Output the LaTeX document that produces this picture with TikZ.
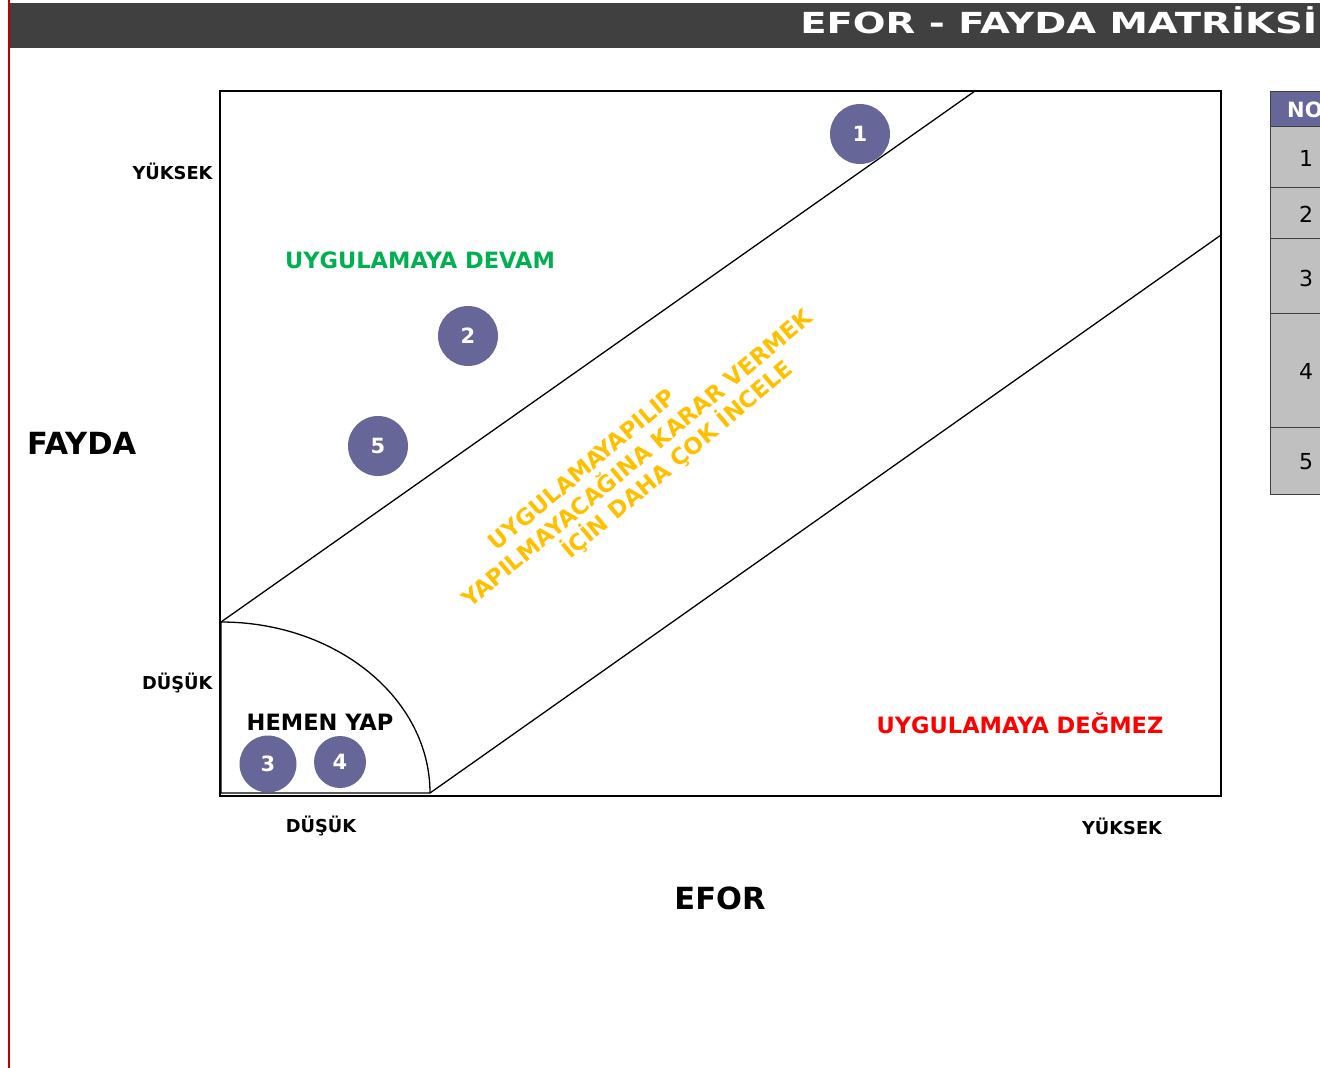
\documentclass[tikz,border=0pt]{standalone}
\usepackage{fontspec}
\setmainfont{DejaVu Sans}
\definecolor{titlegray}{HTML}{404040}
\definecolor{redline}{HTML}{C00000}
\definecolor{bubble}{HTML}{666699}
\definecolor{devam}{HTML}{00B050}
\definecolor{degmez}{HTML}{FF0000}
\definecolor{incele}{HTML}{FFC000}
\definecolor{cellgray}{HTML}{C0C0C0}
\newcommand{\fsz}[1]{\fontsize{#1}{#1}\selectfont}
\begin{document}
\begin{tikzpicture}[x=1pt,y=-1pt,
  bub/.style={circle,fill=bubble,minimum size=#1,inner sep=0pt,text=white,font=\bfseries\fsz{21}},
  axlbl/.style={font=\bfseries\fsz{17.8}},
  zone/.style={font=\bfseries\fsz{22.5}},
  big/.style={font=\bfseries\fsz{30.5}},
  diag/.style={text=incele,rotate=40,inner sep=0pt,text height=0.95em,text depth=0.25em,font=\bfseries\fsz{22.7}},
  cell/.style={fill=cellgray,draw=titlegray,line width=0.8pt},
  cellnum/.style={font=\fsz{22}}]
\useasboundingbox (0,0) rectangle (1320,1068);
% title bar and red margin line
\fill[titlegray] (10,3) rectangle (1330,48);
\draw[redline,line width=2pt] (9,0) -- (9,1068);
\node[anchor=base west,text=white,font=\bfseries\fsz{29},xscale=1.33,inner sep=0pt] (title) at (800,34) {EFOR - FAYDA MATRİKSİ};
% matrix frame
\draw[line width=1.8pt] (220,91) rectangle (1221,796);
% quarter ellipse zone
\draw[line width=1.3pt] (221,793) -- (221,622) arc[start angle=90,end angle=0,x radius=209pt,y radius=171pt] -- cycle;
% diagonals
\draw[line width=1.3pt] (221,622) -- (975,91);
\draw[line width=1.3pt] (430,793) -- (1221,235);
% axis labels
\node[axlbl,anchor=east] (yhi) at (216,171) {YÜKSEK};
\node[axlbl,anchor=east] (ylo) at (216,683) {DÜŞÜK};
\node[axlbl] (xlo) at (321,826) {DÜŞÜK};
\node[axlbl] (xhi) at (1122,826) {YÜKSEK};
\node[big,anchor=west,inner sep=0pt] (fayda) at (27,443) {FAYDA};
\node[big] (efor) at (720,898) {EFOR};
% zone labels
\node[zone,text=devam] (devam) at (420,260) {UYGULAMAYA DEVAM};
\node[zone,text=degmez] (degmez) at (1020,723) {UYGULAMAYA DEĞMEZ};
\node[zone] (hemen) at (320,722) {HEMEN YAP};
\node[diag] (inc1) at (585,473) {UYGULAMA\kern-0.55em{} YAPILIP};
\node[diag] (inc2) at (640,462) {YAPILMAYACAĞINA KARAR VERMEK};
\node[diag] (inc3) at (680,463) {İÇİN DAHA ÇOK İNCELE};
% bubbles
\node[bub=60pt] (c1) at (860,134) {1};
\node[bub=60pt] (c2) at (468,336) {2};
\node[bub=60pt] (c5) at (378,446) {5};
\node[bub=57pt] (c3) at (268,764) {3};
\node[bub=52pt] (c4) at (340,762) {4};
% table
\fill[bubble] (1270,91) rectangle (1330,126);
\draw[titlegray,line width=0.8pt] (1270,91) rectangle (1330,126);
\node[anchor=west,text=white,font=\bfseries\fsz{21},inner sep=0pt] (no) at (1287,110) {NO};
\draw[cell] (1270,126) rectangle (1330,187);
\draw[cell] (1270,187) rectangle (1330,238);
\draw[cell] (1270,238) rectangle (1330,313);
\draw[cell] (1270,313) rectangle (1330,427);
\draw[cell] (1270,427) rectangle (1330,494);
\node[cellnum] (r1) at (1306,158) {1};
\node[cellnum] (r2) at (1306,214) {2};
\node[cellnum] (r3) at (1306,278) {3};
\node[cellnum] (r4) at (1306,371) {4};
\node[cellnum] (r5) at (1306,462) {5};
\end{tikzpicture}
\end{document}
